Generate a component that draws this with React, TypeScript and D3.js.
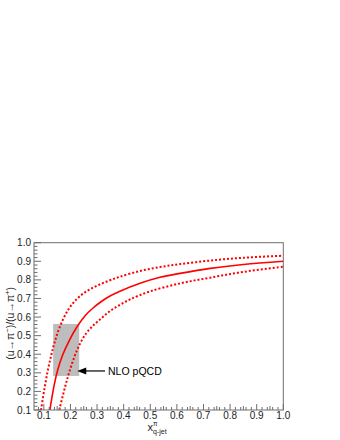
import React from "react";
import * as d3 from "d3";

const centralX = [0.1227, 0.139, 0.152, 0.171, 0.196, 0.2235, 0.255, 0.286, 0.3175, 0.3487, 0.386, 0.4615, 0.537, 0.612, 0.725, 0.85, 1.0];
const centralY = [0.1, 0.235, 0.315, 0.397, 0.475, 0.545, 0.607, 0.65, 0.685, 0.713, 0.739, 0.782, 0.814, 0.835, 0.862, 0.883, 0.9];
const upperX = [0.0893, 0.1017, 0.1145, 0.127, 0.1393, 0.1607, 0.192, 0.2235, 0.2547, 0.286, 0.3175, 0.3487, 0.386, 0.4615, 0.537, 0.612, 0.725, 0.85, 1.0];
const upperY = [0.1, 0.21, 0.31, 0.39, 0.458, 0.55, 0.64, 0.697, 0.733, 0.759, 0.78, 0.798, 0.817, 0.848, 0.869, 0.885, 0.904, 0.919, 0.93];
const lowerX = [0.158, 0.171, 0.1833, 0.1957, 0.2145, 0.233, 0.258, 0.286, 0.3175, 0.3487, 0.386, 0.424, 0.499, 0.612, 0.725, 0.85, 1.0];
const lowerY = [0.1, 0.175, 0.243, 0.305, 0.385, 0.448, 0.51, 0.555, 0.595, 0.632, 0.666, 0.695, 0.738, 0.781, 0.812, 0.843, 0.871];
const boxX = [0.135, 0.233];
const boxY = [0.283, 0.563];
const xTicks = [0.1, 0.2, 0.3, 0.4, 0.5, 0.6, 0.7, 0.8, 0.9, 1.0];
const yTicks = [0.1, 0.2, 0.3, 0.4, 0.5, 0.6, 0.7, 0.8, 0.9, 1.0];
const annotation = "NLO pQCD";
const arrowY = 0.31;
const arrowFromX = 0.33;

export default function App() {
  const L = 34, R = 283.3, T = 242.7, B = 410;
  const x = d3.scaleLinear().domain([0.063, 1.0]).range([L, R]);
  const y = d3.scaleLinear().domain([0.1, 1.0]).range([B, T]);
  const font = "Liberation Sans, Arial, Helvetica, sans-serif";

  const mk = (xs: number[], ys: number[]) =>
    d3.line<number>().x((_, i) => x(xs[i])).y((_, i) => y(ys[i])).curve(d3.curveCatmullRom.alpha(0.5))(xs) || "";

  const xMinor: number[] = [];
  for (let k = 7; k <= 100; k++) {
    if (k % 10 !== 0 && k % 2 === 0) xMinor.push(k / 100);
  }
  const xMid: number[] = [];
  for (let k = 15; k < 100; k += 10) xMid.push(k / 100);
  const yMinor: number[] = [];
  for (let k = 10; k <= 100; k += 2) if (k % 10 !== 0) yMinor.push(k / 100);

  const ax = x(arrowFromX);
  const ay = y(arrowY);
  const tipX = x(boxX[1]) - 2;

  return (
    <svg width={340} height={440} style={{ position: "absolute", left: 0, top: 0, background: "#fff" }}>
      <defs>
        <clipPath id="plot">
          <rect x={L} y={T} width={R - L} height={B - T} />
        </clipPath>
      </defs>
      <rect
        x={x(boxX[0])}
        y={y(boxY[1])}
        width={x(boxX[1]) - x(boxX[0])}
        height={y(boxY[0]) - y(boxY[1])}
        fill="#bdbdbd"
      />
      <g clipPath="url(#plot)" fill="none" stroke="#ff0000">
        <path d={mk(upperX, upperY)} strokeWidth={2} strokeDasharray="2,2" />
        <path d={mk(lowerX, lowerY)} strokeWidth={2} strokeDasharray="2,2" />
        <path d={mk(centralX, centralY)} strokeWidth={1.6} />
      </g>
      {/* arrow */}
      <line x1={ax} y1={ay} x2={tipX + 7} y2={ay} stroke="#000" strokeWidth={1.2} />
      <path d={`M${tipX},${ay} L${tipX + 9},${ay - 3.5} L${tipX + 9},${ay + 3.5} Z`} fill="#000" />
      <text x={ax + 3} y={ay + 3.7} fontFamily={font} fontSize={10.5} fill="#000">
        {annotation}
      </text>
      {/* frame */}
      <rect x={L} y={T} width={R - L} height={B - T} fill="none" stroke="#6e6e6e" strokeWidth={1} />
      {/* ticks */}
      <g stroke="#6e6e6e" strokeWidth={1}>
        {xTicks.map((t) => (
          <line key={"xt" + t} x1={x(t)} x2={x(t)} y1={B} y2={B - 6} />
        ))}
        {xMid.map((t) => (
          <line key={"xm" + t} x1={x(t)} x2={x(t)} y1={B} y2={B - 4} />
        ))}
        {xMinor.map((t) => (
          <line key={"xn" + t} x1={x(t)} x2={x(t)} y1={B} y2={B - 3} />
        ))}
        {yTicks.map((t) => (
          <line key={"yt" + t} x1={L} x2={L + 7} y1={y(t)} y2={y(t)} />
        ))}
        {yMinor.map((t) => (
          <line key={"yn" + t} x1={L} x2={L + 3.5} y1={y(t)} y2={y(t)} />
        ))}
      </g>
      <g fontFamily={font} fontSize={10} fill="#222">
        {xTicks.map((t) => (
          <text key={"xl" + t} x={x(t)} y={B + 8.5} textAnchor="middle">
            {t.toFixed(1)}
          </text>
        ))}
        {yTicks.map((t) => (
          <text key={"yl" + t} x={L - 3} y={y(t) + 3.5} textAnchor="end">
            {t.toFixed(1)}
          </text>
        ))}
      </g>
      {/* x title */}
      <text x={147.5} y={431} fontFamily={font} fontSize={11} fill="#222">x</text>
      <text x={153} y={426.3} fontFamily={font} fontSize={6.5} fill="#222">π</text>
      <text x={153} y={434} fontFamily={font} fontSize={7} fill="#222">q-jet</text>
      {/* y title */}
      <text
        transform={`translate(14, ${(T + B) / 2 - 3}) rotate(-90)`}
        textAnchor="middle"
        fontFamily={font}
        fontSize={10.5}
        fill="#222"
      >
        (u→π
        <tspan dy={-4} fontSize={7.5}>−</tspan>
        <tspan dy={4}>)/(u→π</tspan>
        <tspan dy={-4} fontSize={7.5}>+</tspan>
        <tspan dy={4}>)</tspan>
      </text>
    </svg>
  );
}
